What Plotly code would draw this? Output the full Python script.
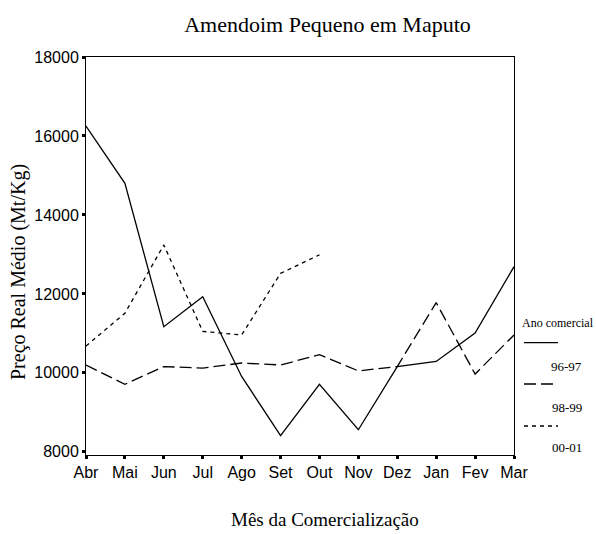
import plotly.graph_objects as go

months = ["Abr", "Mai", "Jun", "Jul", "Ago", "Set", "Out", "Nov", "Dez", "Jan", "Fev", "Mar"]
s_96_97 = [16250, 14800, 11170, 11930, 9910, 8410, 9710, 8560, 10160, 10290, 11010, 12690]
s_98_99 = [10200, 9710, 10160, 10120, 10250, 10200, 10460, 10050, 10160, 11780, 9970, 10960]
s_00_01 = [10680, 11510, 13240, 11050, 10960, 12520, 12990]
series_names = ["96-97", "98-99", "00-01"]
y_ticks = [8000, 10000, 12000, 14000, 16000, 18000]
dashes = ["solid", "12px,5px", "4px,4px"]

SERIF = "Liberation Serif, Times New Roman, serif"
SANS = "Liberation Sans, Arial, sans-serif"

W, H = 596, 534

fig = go.Figure()
for name, vals, d in zip(series_names, [s_96_97, s_98_99, s_00_01], dashes):
    fig.add_trace(go.Scatter(x=months[:len(vals)], y=vals, mode="lines", name=name,
                             line=dict(color="black", width=1.3, dash=d), showlegend=False,
                             hoverinfo="skip"))

# custom legend (outside, right of the plot)
legend_y = [0.2822, 0.1784, 0.0729]
label_y = [0.2219, 0.1206, 0.0201]
for name, d, ly, ty in zip(series_names, dashes, legend_y, label_y):
    fig.add_shape(type="line", xref="paper", yref="paper", x0=1.0234, x1=1.1028, y0=ly, y1=ly,
                  line=dict(color="black", width=1.3, dash=d))
    fig.add_annotation(text=name, xref="paper", yref="paper", x=1.1238, y=ty, showarrow=False,
                       xanchor="center", yanchor="middle",
                       font=dict(family=SERIF, size=13, color="black"))
fig.add_annotation(text="Ano comercial", xref="paper", yref="paper", x=1.0140, y=0.3317,
                   showarrow=False, xanchor="left", yanchor="middle",
                   font=dict(family=SERIF, size=12, color="black"))

# axis titles
fig.add_annotation(text="Mês da Comercialização", xref="paper", yref="paper", x=0.5584, y=-0.1633,
                   showarrow=False, xanchor="center", yanchor="middle",
                   font=dict(family=SERIF, size=19, color="black"))
fig.add_annotation(text="Preço Real Médio (Mt/Kg)", xref="paper", yref="paper", x=-0.1565, y=0.4598,
                   showarrow=False, xanchor="center", yanchor="middle", textangle=-90,
                   font=dict(family=SERIF, size=20, color="black"))

fig.update_layout(
    width=W, height=H,
    margin=dict(l=86, r=82, t=57, b=79, autoexpand=False),
    paper_bgcolor="white", plot_bgcolor="white",
    title=dict(text="Amendoim Pequeno em Maputo", xref="container", x=327.5 / W, xanchor="center",
               yref="container", y=1 - 24 / H, yanchor="middle", automargin=False,
               font=dict(family=SERIF, size=22, color="black")),
    xaxis=dict(
        type="category", categoryorder="array", categoryarray=months,
        range=[0, 11], showgrid=False, zeroline=False, automargin=False,
        showline=True, linecolor="black", linewidth=1, mirror=True,
        ticks="outside", ticklen=3, tickwidth=3, tickcolor="black",
        tickfont=dict(family=SANS, size=16, color="black"),
    ),
    yaxis=dict(
        range=[7920, 18000], tickvals=y_ticks, tickformat="d",
        showgrid=False, zeroline=False, automargin=False,
        showline=True, linecolor="black", linewidth=1, mirror=True,
        ticks="outside", ticklen=3, tickwidth=3, tickcolor="black",
        tickfont=dict(family=SANS, size=16, color="black"),
    ),
)

fig.write_html("out.html", config={"displayModeBar": False},
               post_script="document.body.style.margin='0';document.body.style.overflow='hidden';")
